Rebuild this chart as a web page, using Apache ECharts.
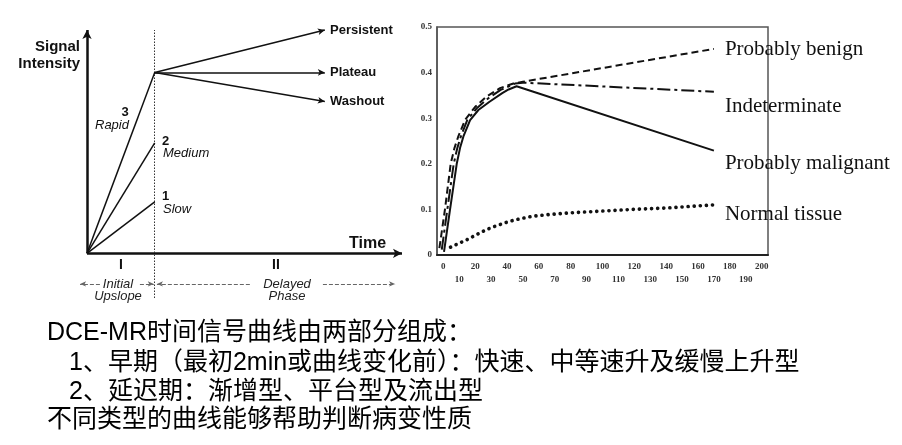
<!DOCTYPE html>
<html>
<head>
<meta charset="utf-8">
<title>DCE-MR time-signal curves</title>
<script src="https://cdn.jsdelivr.net/npm/echarts@6/dist/echarts.min.js"></script>
<style>
  html, body { margin: 0; padding: 0; background: #fff; }
  #chart { width: 902px; height: 445px; }
</style>
</head>
<body>
<div id="chart"></div>
<script>
// ---- right panel: measured curves (time, signal) ----
const timeTicks = [0, 10, 20, 30, 40, 50, 60, 70, 80, 90, 100, 110, 120, 130, 140, 150, 160, 170, 180, 190, 200]
const signalTicks = [0, 0.1, 0.2, 0.3, 0.4, 0.5]
const curveNames = ['Probably benign', 'Indeterminate', 'Probably malignant', 'Normal tissue']
const benign = [[-2.5, 0.015], [1, 0.1], [2.8, 0.15], [4.6, 0.2], [7, 0.235], [9.4, 0.26], [13.6, 0.296], [20, 0.325], [27, 0.347], [35.6, 0.366], [44, 0.376], [50, 0.38], [170, 0.452]]
const indeterminate = [[-1, 0.012], [2.5, 0.1], [4.5, 0.15], [6.5, 0.2], [8.8, 0.235], [11, 0.26], [15, 0.296], [21, 0.322], [28, 0.343], [36, 0.362], [45, 0.376], [50, 0.378], [170, 0.358]]
const malignant = [[0.4, 0.007], [4.2, 0.1], [6.3, 0.15], [8.4, 0.2], [10.5, 0.235], [12.6, 0.26], [16.8, 0.296], [22, 0.318], [29, 0.336], [37, 0.355], [41, 0.363], [46, 0.37], [170, 0.229]]
const normal = [[4.5, 0.017], [10, 0.026], [15, 0.034], [20, 0.043], [25, 0.052], [30, 0.06], [35, 0.066], [40, 0.072], [45, 0.077], [56, 0.085], [67, 0.089], [78, 0.092], [98, 0.096], [119, 0.1], [140, 0.103], [170, 0.11]]

// ---- left panel: schematic (arbitrary units, time 0-100, signal 0-100) ----
const phaseEnd = 21.5
const upslopeEnds = [81, 49.5, 23] // rapid, medium, slow
const delayedEnd = 75.5
const delayedEnds = [100, 81, 68] // persistent, plateau, washout
const phaseArrowY = -13.7

const chart = echarts.init(document.getElementById('chart'))

const ink = '#111'
const sans = '"Liberation Sans", Arial, sans-serif'
const serif = '"Liberation Serif", "Times New Roman", serif'
const cjk = '"Liberation Sans", "Noto Sans CJK SC", sans-serif'

function seg(from, to, opts) {
  opts = opts || {}
  const style = Object.assign({ color: ink, width: 1.5, type: 'solid' }, opts.lineStyle)
  return [
    { coord: from, symbol: 'none', lineStyle: style },
    { coord: to, symbol: opts.arrow ? 'arrow' : 'none', symbolSize: opts.arrowSize || [7, 9] }
  ]
}

const thinGray = { color: '#666', width: 1, type: [4, 2] }
const schematicLines = [
  seg([0, 0], [0, 100], { arrow: true, arrowSize: [7, 9], lineStyle: { width: 2.5 } }),
  seg([0, 0], [100, 0], { arrow: true, arrowSize: [7, 9], lineStyle: { width: 2.5 } }),
  seg([phaseEnd, -20], [phaseEnd, 100], { lineStyle: { color: '#333', width: 1, type: [1.5, 1.5] } })
]
upslopeEnds.forEach(v => {
  schematicLines.push(seg([0, 0], [phaseEnd, v]))
})
delayedEnds.forEach(v => {
  schematicLines.push(seg([phaseEnd, upslopeEnds[0]], [delayedEnd, v], { arrow: true, arrowSize: [5, 7] }))
})
schematicLines.push(seg([4.1, phaseArrowY], [-2.2, phaseArrowY], { arrow: true, arrowSize: [4, 6], lineStyle: thinGray }))
schematicLines.push(seg([16.8, phaseArrowY], [21.2, phaseArrowY], { arrow: true, arrowSize: [4, 6], lineStyle: thinGray }))
schematicLines.push(seg([51.7, phaseArrowY], [22.2, phaseArrowY], { arrow: true, arrowSize: [4, 6], lineStyle: thinGray }))
schematicLines.push(seg([74.9, phaseArrowY], [97.8, phaseArrowY], { arrow: true, arrowSize: [4, 6], lineStyle: thinGray }))

function curve(name, data, lineType, width, dy, cap) {
  return {
    name: name,
    type: 'line',
    xAxisIndex: 1,
    yAxisIndex: 1,
    data: data,
    showSymbol: false,
    lineStyle: { color: ink, width: width, type: lineType, cap: cap || 'butt', join: 'round' },
    endLabel: {
      show: true,
      formatter: '{a}',
      distance: 11,
      offset: [0, dy],
      fontFamily: serif,
      fontSize: 21,
      color: ink
    },
    silent: true
  }
}

function lbl(text, x, y, o) {
  o = o || {}
  return {
    type: 'text',
    x: x,
    y: y,
    style: {
      text: text,
      fontFamily: o.family || sans,
      fontSize: o.size || 13,
      fontWeight: o.weight || 'bold',
      fontStyle: o.italic ? 'italic' : 'normal',
      fill: o.color || ink,
      align: o.align || 'left',
      verticalAlign: 'middle'
    }
  }
}

chart.setOption({
  animation: false,
  backgroundColor: '#fff',
  grid: [
    { left: 55.5, top: 30, width: 346.5, height: 268 },
    { left: 437, top: 27, width: 331, height: 228, show: true, borderColor: '#555', borderWidth: 1.5 }
  ],
  xAxis: [
    { gridIndex: 0, type: 'value', min: -10, max: 100, show: false },
    {
      gridIndex: 1,
      type: 'value',
      min: -4,
      max: 204,
      axisLine: { show: true, onZero: false, lineStyle: { color: '#222', width: 2 } },
      axisTick: { show: false },
      splitLine: { show: false },
      axisLabel: {
        customValues: timeTicks,
        formatter: v => (v % 20 === 0 ? String(v) : '\n' + v),
        fontFamily: serif,
        fontWeight: 'bold',
        fontSize: 9,
        lineHeight: 13,
        color: '#333',
        margin: 5
      }
    }
  ],
  yAxis: [
    { gridIndex: 0, type: 'value', min: -20, max: 100, show: false },
    {
      gridIndex: 1,
      type: 'value',
      min: signalTicks[0],
      max: signalTicks[signalTicks.length - 1],
      interval: 0.1,
      axisLine: { show: true, onZero: false, lineStyle: { color: '#555', width: 1.5 } },
      axisTick: { show: false },
      splitLine: { show: false },
      axisLabel: {
        formatter: v => (v === 0 ? '0' : v.toFixed(1)),
        fontFamily: serif,
        fontWeight: 'bold',
        fontSize: 9,
        color: '#333',
        margin: 5
      }
    }
  ],
  series: [
    {
      type: 'line',
      xAxisIndex: 0,
      yAxisIndex: 0,
      data: [[0, 0]],
      showSymbol: false,
      lineStyle: { opacity: 0 },
      silent: true,
      markLine: {
        silent: true,
        animation: false,
        symbol: ['none', 'none'],
        lineStyle: { type: 'solid', color: ink },
        label: { show: false },
        emphasis: { disabled: true },
        data: schematicLines
      }
    },
    curve(curveNames[0], benign, [7, 4], 2, 1),
    curve(curveNames[1], indeterminate, [13, 4, 3, 4], 2, 15),
    curve(curveNames[2], malignant, 'solid', 2, 13),
    curve(curveNames[3], normal, [0.1, 6], 3.6, 10, 'round')
  ],
  graphic: [
    lbl('Signal', 80, 47, { size: 15, align: 'right' }),
    lbl('Intensity', 80, 64, { size: 15, align: 'right' }),
    lbl('Persistent', 330, 30),
    lbl('Plateau', 330, 72),
    lbl('Washout', 330, 101),
    lbl('Time', 349, 244, { size: 16 }),
    lbl('3', 125, 112, { align: 'center' }),
    lbl('Rapid', 95, 125, { weight: 'normal', italic: true }),
    lbl('2', 162, 141),
    lbl('Medium', 163, 153, { weight: 'normal', italic: true }),
    lbl('1', 162, 196),
    lbl('Slow', 163, 209, { weight: 'normal', italic: true }),
    lbl('I', 121, 265, { size: 14, align: 'center' }),
    lbl('II', 276, 265, { size: 14, align: 'center' }),
    lbl('Initial', 118, 284, { weight: 'normal', italic: true, align: 'center', color: '#222' }),
    lbl('Upslope', 118, 296, { weight: 'normal', italic: true, align: 'center', color: '#222' }),
    lbl('Delayed', 287, 284, { weight: 'normal', italic: true, align: 'center', color: '#222' }),
    lbl('Phase', 287, 296, { weight: 'normal', italic: true, align: 'center', color: '#222' }),
    lbl('DCE-MR时间信号曲线由两部分组成：', 47, 333, { family: cjk, size: 25, weight: 'normal', color: '#000' }),
    lbl('1、早期（最初2min或曲线变化前）：快速、中等速升及缓慢上升型', 69, 363, { family: cjk, size: 25, weight: 'normal', color: '#000' }),
    lbl('2、延迟期：渐增型、平台型及流出型', 69, 392, { family: cjk, size: 25, weight: 'normal', color: '#000' }),
    lbl('不同类型的曲线能够帮助判断病变性质', 47, 420, { family: cjk, size: 25, weight: 'normal', color: '#000' })
  ]
})
</script>
</body>
</html>
